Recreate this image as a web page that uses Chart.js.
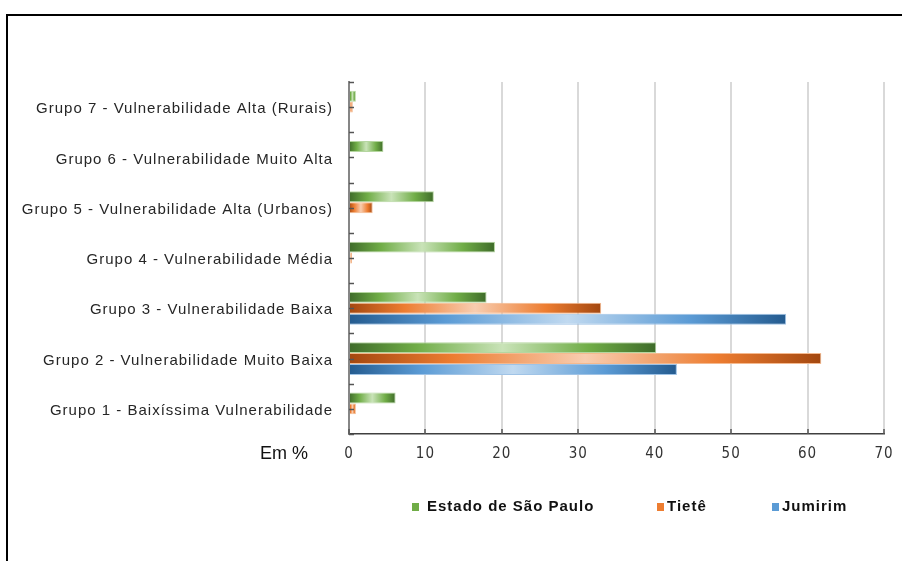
<!DOCTYPE html>
<html>
<head>
<meta charset="utf-8">
<script src="https://cdn.jsdelivr.net/npm/chart.js@4.4.1/dist/chart.umd.min.js"></script>
<style>
  html, body { margin: 0; padding: 0; background: #fff; }
  #frame { position: absolute; left: 6px; top: 14px; width: 900px; height: 560px;
           border-top: 2px solid #000; border-left: 2px solid #000; }
  #wrap { position: absolute; left: 0; top: 0; width: 902px; height: 561px; }
</style>
</head>
<body>
<div id="frame"></div>
<div id="wrap"><canvas id="myChart"></canvas></div>
<script>
// grupos, de cima para baixo
var grupos = [
  "Grupo 7 - Vulnerabilidade Alta (Rurais)",
  "Grupo 6 - Vulnerabilidade Muito Alta",
  "Grupo 5 - Vulnerabilidade Alta (Urbanos)",
  "Grupo 4 - Vulnerabilidade Média",
  "Grupo 3 - Vulnerabilidade Baixa",
  "Grupo 2 - Vulnerabilidade Muito Baixa",
  "Grupo 1 - Baixíssima Vulnerabilidade"
];
var estadoSP = [0.9, 4.5, 11.1, 19.1, 18.0, 40.2, 6.1];
var tiete    = [0.5, 0,   3.1,  0.4,  33.0, 61.8, 0.9];
var jumirim  = [0,   0,   0,    0,    57.2, 42.9, 0];
var xTicks = [0, 10, 20, 30, 40, 50, 60, 70];

// dark, mid, light
var greens  = ["#3e6b29", "#70ad47", "#c9e3b8"];
var oranges = ["#a3470f", "#ed7d31", "#f8cdb0"];
var blues   = ["#245b8f", "#5b9bd5", "#c0d9f0"];

function barFill(stops) {
  return function (context) {
    var chart = context.chart;
    if (!chart.chartArea || !chart.scales.x) return stops[1];
    var xs = chart.scales.x;
    var x0 = xs.getPixelForValue(0);
    var x1 = xs.getPixelForValue(context.raw);
    if (x1 - x0 < 2) return stops[1];
    var g = chart.ctx.createLinearGradient(x0, 0, x1, 0);
    g.addColorStop(0, stops[0]);
    g.addColorStop(0.22, stops[1]);
    g.addColorStop(0.5, stops[2]);
    g.addColorStop(0.78, stops[1]);
    g.addColorStop(1, stops[0]);
    return g;
  };
}

var innerTicks = {
  id: "innerTicks",
  beforeUpdate: function (chart) { chart.ctx.letterSpacing = "1px"; },
  beforeDraw: function (chart) { chart.ctx.letterSpacing = "1px"; },
  afterDatasetsDraw: function (chart) {
    var ctx = chart.ctx, area = chart.chartArea;
    var xs = chart.scales.x;
    ctx.save();
    ctx.strokeStyle = "#555";
    ctx.lineWidth = 1.5;
    var band = (area.bottom - area.top) / grupos.length;
    for (var i = 0; i <= grupos.length * 2; i++) {
      var y = Math.round(area.top + i * band / 2) + 0.5;
      ctx.beginPath();
      ctx.moveTo(area.left, y);
      ctx.lineTo(area.left + 5, y);
      ctx.stroke();
    }
    xTicks.forEach(function (v) {
      var x = Math.round(xs.getPixelForValue(v));
      ctx.beginPath();
      ctx.moveTo(x, area.bottom);
      ctx.lineTo(x, area.bottom - 5);
      ctx.stroke();
    });
    ctx.restore();
  },
  afterDraw: function (chart) {
    var ctx = chart.ctx;
    ctx.save();
    ctx.letterSpacing = "0px";
    ctx.fillStyle = "#111";
    ctx.font = "18px 'Liberation Sans', Arial, sans-serif";
    ctx.textBaseline = "middle";
    ctx.fillText("Em %", 260, 454);

    // legenda
    var pos = [412, 657, 772];
    ctx.letterSpacing = "1px";
    ctx.font = "bold 15px 'Liberation Sans', Arial, sans-serif";
    chart.data.datasets.forEach(function (ds, i) {
      ctx.fillStyle = ds.legendColor;
      ctx.fillRect(pos[i], 503, 7, 8);
      ctx.fillStyle = "#111";
      ctx.fillText(ds.label, pos[i] + (i == 0 ? 15 : 10), 507);
    });
    ctx.restore();
  }
};

const ctx = document.getElementById("myChart").getContext("2d");
var myChart = new Chart(ctx, {
  type: "bar",
  data: {
    labels: grupos,
    datasets: [
      { label: "Estado de São Paulo", data: estadoSP, backgroundColor: barFill(greens),
        borderColor: "#b5d6a0", legendColor: "#70ad47" },
      { label: "Tietê", data: tiete, backgroundColor: barFill(oranges),
        borderColor: "#f4b98f", legendColor: "#ed7d31" },
      { label: "Jumirim", data: jumirim, backgroundColor: barFill(blues),
        borderColor: "#9fc3e6", legendColor: "#5b9bd5" }
    ]
  },
  options: {
    indexAxis: "y",
    responsive: true,
    maintainAspectRatio: false,
    animation: false,
    datasets: {
      bar: { categoryPercentage: 0.65, barPercentage: 1, borderWidth: 1, borderSkipped: "start" }
    },
    layout: { padding: { top: 82, right: 18, left: 0, bottom: 0 } },
    plugins: { legend: { display: false }, tooltip: { enabled: false } },
    scales: {
      x: {
        min: 0, max: 70,
        afterFit: function (scale) {
          scale.height = 127;
          scale.paddingLeft = 0;
          scale.paddingRight = 0;
        },
        afterBuildTicks: function (scale) { scale.ticks = xTicks.map(function (v) { return { value: v }; }); },
        grid: { color: "#d9d9d9", lineWidth: 2, drawTicks: false },
        border: { display: true, color: "#404040", width: 1.5 },
        ticks: {
          padding: 11, color: "#333",
          font: { family: "'Liberation Sans Narrow', 'DejaVu Sans Condensed', sans-serif", size: 15 }
        }
      },
      y: {
        afterFit: function (scale) { scale.width = 349; },
        grid: { display: true, drawOnChartArea: false, drawTicks: false },
        border: { display: true, color: "#868686", width: 2 },
        ticks: {
          padding: 16, color: "#262626", labelOffset: 2,
          font: { family: "'Liberation Sans', Arial, sans-serif", size: 15 }
        }
      }
    }
  },
  plugins: [innerTicks]
});
</script>
</body>
</html>
